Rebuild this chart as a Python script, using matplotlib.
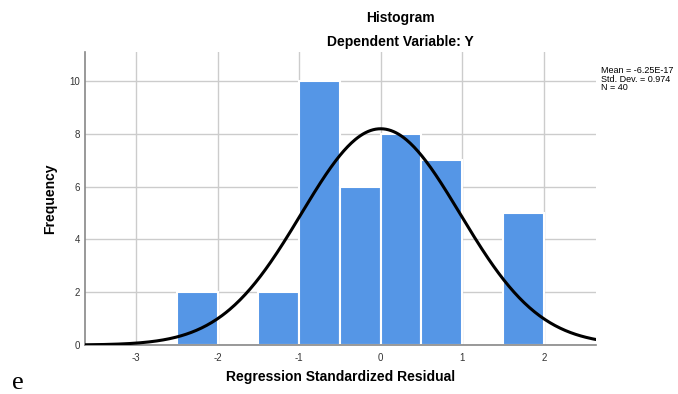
import numpy as np
import matplotlib
matplotlib.use("Agg")
import matplotlib.pyplot as plt

plt.rcParams["font.family"] = ["Liberation Sans", "DejaVu Sans"]
plt.rcParams["axes.unicode_minus"] = False

# histogram of regression standardized residuals
bin_left = [-2.5, -1.5, -1.0, -0.5, 0.0, 0.5, 1.5]
counts = [2, 2, 10, 6, 8, 7, 5]
bin_width = 0.5
mean_val = -6.25e-17
std_val = 0.974
n_obs = 40
x_ticks = [-3, -2, -1, 0, 1, 2]
y_ticks = [0, 2, 4, 6, 8, 10]

W, H = 678, 394
fig = plt.figure(figsize=(W / 100, H / 100), dpi=100)
ax = fig.add_axes([85 / W, 1 - 345 / H, (596 - 85) / W, (345 - 52) / H])

ax.bar(bin_left, counts, width=bin_width, align="edge", color="#5596e6",
       edgecolor="white", linewidth=1.5, zorder=2)

xs = np.linspace(-3.625, 2.64, 400)
pdf = np.exp(-0.5 * ((xs - mean_val) / std_val) ** 2) / (std_val * np.sqrt(2 * np.pi))
ax.plot(xs, pdf * n_obs * bin_width, color="black", linewidth=2.2, zorder=3)

ax.set_xlim(-3.625, 2.64)
ax.set_ylim(0, 11.1)
ax.set_xticks(x_ticks)
ax.set_yticks(y_ticks)
ax.grid(True, color="#cccccc", linewidth=1, zorder=0)
ax.set_axisbelow(True)
ax.tick_params(length=0, labelsize=7, colors="#333333")
ax.tick_params(axis="y", pad=3.5)
ax.tick_params(axis="x", pad=6)
for s in ["top", "right"]:
    ax.spines[s].set_visible(False)
for s in ["left", "bottom"]:
    ax.spines[s].set_color("#888888")
    ax.spines[s].set_linewidth(1.2)

ax.set_xlabel("Regression Standardized Residual", fontsize=10, fontweight="bold",
              labelpad=5)
ax.set_ylabel("Frequency", fontsize=10, fontweight="bold")
ax.yaxis.set_label_coords((57 - 85) / (596 - 85), 0.5)

fig.text(400 / W, 1 - 18 / H, "Histogram", ha="center", va="center",
         fontsize=10, fontweight="bold")
fig.text(400 / W, 1 - 42 / H, "Dependent Variable: Y", ha="center", va="center",
         fontsize=10, fontweight="bold")
fig.text(601 / W, 1 - 79 / H,
         f"Mean = {mean_val:.2E}\nStd. Dev. = {std_val}\nN = {n_obs}",
         ha="left", va="center", fontsize=6.5, linespacing=0.95)
fig.text(12 / W, 1 - 383 / H, "e", ha="left", va="center", fontsize=19,
         family="Liberation Serif")

fig.savefig("out.png", dpi=100)
